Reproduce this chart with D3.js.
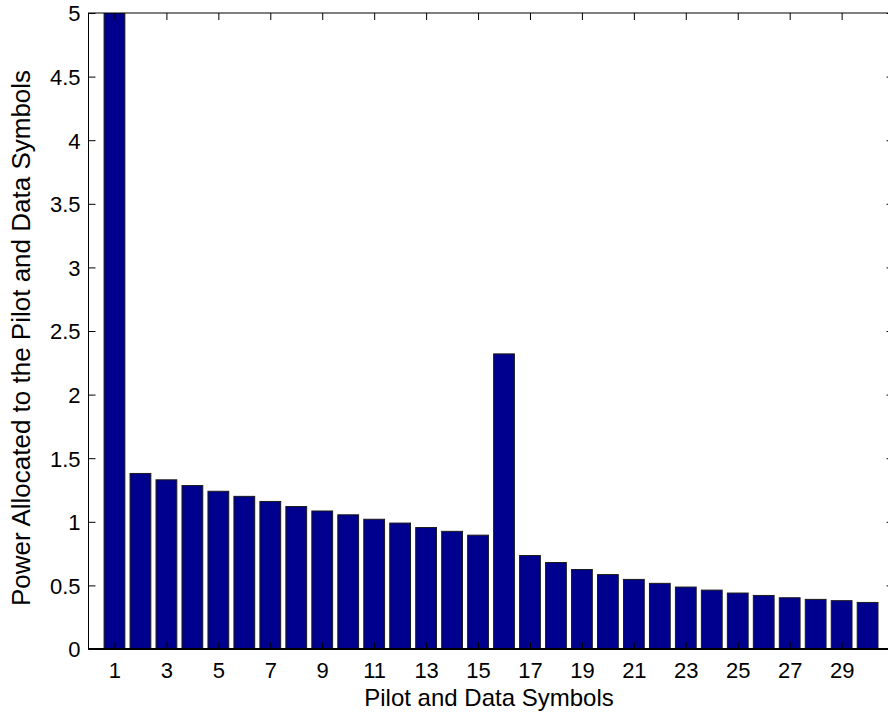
<!DOCTYPE html>
<html>
<head>
<meta charset="utf-8">
<script src="https://cdn.jsdelivr.net/npm/d3@7"></script>
<style>
  html, body { margin: 0; padding: 0; background: #fff; }
  svg { display: block; }
  text { font-family: "Liberation Sans", Arial, Helvetica, sans-serif; fill: #000; }
</style>
</head>
<body>
<svg id="chart" width="888" height="715"></svg>
<script>
const symbols = d3.range(1, 31);
const power = [5.0, 1.38, 1.33, 1.285, 1.24, 1.2, 1.16, 1.12, 1.085, 1.055,
               1.02, 0.99, 0.955, 0.925, 0.895, 2.32, 0.735, 0.68, 0.625, 0.585,
               0.547, 0.516, 0.487, 0.463, 0.44, 0.421, 0.403, 0.39, 0.38, 0.366];
const xTicks = [1, 3, 5, 7, 9, 11, 13, 15, 17, 19, 21, 23, 25, 27, 29];
const yTicks = [0, 0.5, 1, 1.5, 2, 2.5, 3, 3.5, 4, 4.5, 5];
const xLabel = "Pilot and Data Symbols";
const yLabel = "Power Allocated to the Pilot and Data Symbols";

const svg = d3.select("#chart");
const mLeft = 88.5, mTop = 13, mBottom = 649;
const unit = 25.97;
const mRight = mLeft + 31 * unit;
const tickFont = "22px", labelFont = "24px", yLabelFont = "26px";

const x = d3.scaleLinear().domain([0, 31]).range([mLeft, mRight]);
const y = d3.scaleLinear().domain([0, 5]).range([mBottom, mTop]);
const barW = 0.8;

svg.append("defs").append("clipPath").attr("id", "clip")
  .append("rect").attr("x", mLeft).attr("y", mTop).attr("width", mRight - mLeft).attr("height", mBottom - mTop);

svg.append("g").attr("clip-path", "url(#clip)")
  .selectAll("rect").data(symbols).join("rect")
  .attr("x", d => x(d - barW / 2))
  .attr("width", d => x(d + barW / 2) - x(d - barW / 2))
  .attr("y", (d, i) => y(power[i]))
  .attr("height", (d, i) => y(0) - y(power[i]))
  .attr("fill", "#00008f")
  .attr("stroke", "#1a1a1a")
  .attr("stroke-width", 1);

const tickLen = 7;
// bottom axis
const gx = svg.append("g").attr("transform", `translate(0,${mBottom})`)
  .call(d3.axisBottom(x).tickValues(xTicks).tickSize(0).tickPadding(0).tickFormat(d3.format("d")));
gx.select(".domain").remove();
gx.selectAll(".tick text").attr("dy", null).attr("y", 29).attr("font-size", tickFont);
gx.selectAll(".tick").append("line").attr("y1", 0).attr("y2", -tickLen).attr("stroke", "#000");

// top axis ticks
const gt = svg.append("g").attr("transform", `translate(0,${mTop})`)
  .call(d3.axisTop(x).tickValues(xTicks).tickSize(-tickLen).tickFormat(""));
gt.select(".domain").remove();
gt.selectAll(".tick line").attr("stroke", "#000");

// left axis
const gy = svg.append("g").attr("transform", `translate(${mLeft},0)`)
  .call(d3.axisLeft(y).tickValues(yTicks).tickSize(0).tickPadding(8).tickFormat(d => d3.format("")(d)));
gy.select(".domain").remove();
gy.selectAll(".tick text").attr("font-size", tickFont).attr("dy", "0.36em");
gy.selectAll(".tick").append("line").attr("x1", 0).attr("x2", tickLen).attr("stroke", "#000");

// right axis ticks
const gr = svg.append("g").attr("transform", `translate(${mRight},0)`)
  .call(d3.axisRight(y).tickValues(yTicks).tickSize(-tickLen).tickFormat(""));
gr.select(".domain").remove();
gr.selectAll(".tick line").attr("stroke", "#000");

// box
svg.append("rect").attr("x", mLeft).attr("y", mTop).attr("width", mRight - mLeft).attr("height", mBottom - mTop)
  .attr("fill", "none").attr("stroke", "#000").attr("stroke-width", 1);
svg.append("line").attr("x1", mLeft).attr("x2", mRight).attr("y1", mBottom).attr("y2", mBottom)
  .attr("stroke", "#000").attr("stroke-width", 2);

svg.append("text").attr("x", 489).attr("y", 706)
  .attr("text-anchor", "middle").attr("font-size", labelFont).text(xLabel);
svg.append("text").attr("transform", `translate(30,338) rotate(-90)`)
  .attr("text-anchor", "middle").attr("font-size", yLabelFont).text(yLabel);
</script>
</body>
</html>
